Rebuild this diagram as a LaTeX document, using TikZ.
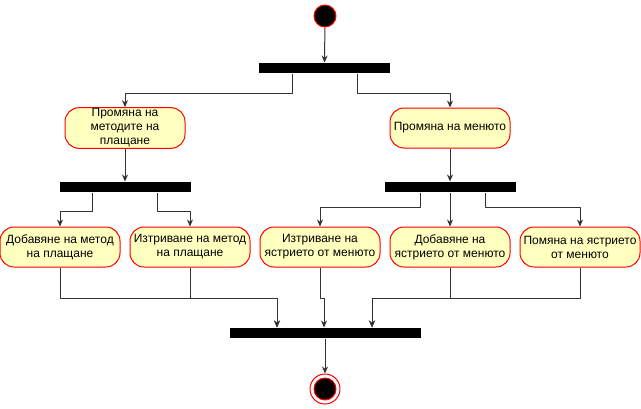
\documentclass[tikz,border=0pt]{standalone}
\usepackage{fontspec}
\setmainfont{Liberation Sans}
\usetikzlibrary{arrows.meta}
\definecolor{actfill}{HTML}{FFFFC0}
\tikzset{
  action/.style={draw=red,fill=actfill,rounded corners=14pt,minimum width=120pt,minimum height=40pt,inner sep=1pt,align=center},
  bar/.style={fill=black,minimum width=131pt,minimum height=10pt,inner sep=0pt},
  startnode/.style={circle,draw=red,fill=black,minimum size=22pt,inner sep=0pt},
  endnode/.style={circle,draw=red,fill=white,minimum size=30pt,inner sep=0pt,
    path picture={\filldraw[draw=red,fill=black] (path picture bounding box.center) circle (11pt);}},
  flow/.style={->,draw=black!80}
}
\begin{document}
\begin{tikzpicture}[x=1pt,y=-1pt,>={Stealth[length=7pt,width=6pt]},line width=1pt,line join=round,font=\fontsize{12}{14}\selectfont]
		\useasboundingbox (0,0) rectangle (641,408);
		\node[startnode] (start) at (325,16) {};
		\node[bar] (fork) at (324.5,68) {};
		\node[action] (paychg) at (125,128) {Промяна на\\методите на\\плащане};
		\node[action] (menuchg) at (450,128) {Промяна на менюто};
		\node[bar] (payfork) at (125,187) {};
		\node[bar] (menufork) at (450,187) {};
		\node[action] (payadd) at (60,247) {Добавяне на метод\\на плащане};
		\node[action] (paydel) at (190,247) {Изтриване на метод\\на плащане};
		\node[action] (itemdel) at (320,247) {Изтриване на\\ястрието от менюто};
		\node[action] (itemadd) at (450,247) {Добавяне на\\ястрието от менюто};
		\node[action] (itemedit) at (580,247) {Помяна на ястрието\\от менюто};
		\node[bar,minimum width=191pt] (join) at (325,333) {};
		\node[endnode] (end) at (325,389) {};
		\draw[flow] (start) -- (fork);
		\draw[flow] ([xshift=-32pt]fork.south) -- ++(0,20) -| (paychg.north);
		\draw[flow] ([xshift=33pt]fork.south) -- ++(0,20) -| (menuchg.north);
		\draw[flow] (paychg) -- (payfork);
		\draw[flow] (menuchg) -- (menufork);
		\draw[flow] ([xshift=-33pt]payfork.south) -- ++(0,19) -| (payadd.north);
		\draw[flow] ([xshift=32pt]payfork.south) -- ++(0,19) -| (paydel.north);
		\draw[flow] ([xshift=-30pt]menufork.south) -- ++(0,15) -| (itemdel.north);
		\draw[flow] (menufork) -- (itemadd);
		\draw[flow] ([xshift=35pt]menufork.south) -- ++(0,15) -| (itemedit.north);
		\draw[flow] (payadd.south) -- ++(0,31) -| ([xshift=-48pt]join.north);
		\draw[flow] (paydel.south) -- ++(0,31) -| ([xshift=-48pt]join.north);
		\draw[flow] (itemdel.south) -- ++(0,31) -| ([xshift=-1pt]join.north);
		\draw[flow] (itemadd.south) -- ++(0,31) -| ([xshift=47pt]join.north);
		\draw[flow] (itemedit.south) -- ++(0,31) -| ([xshift=47pt]join.north);
		\draw[flow] (join) -- (end);
\end{tikzpicture}
\end{document}
